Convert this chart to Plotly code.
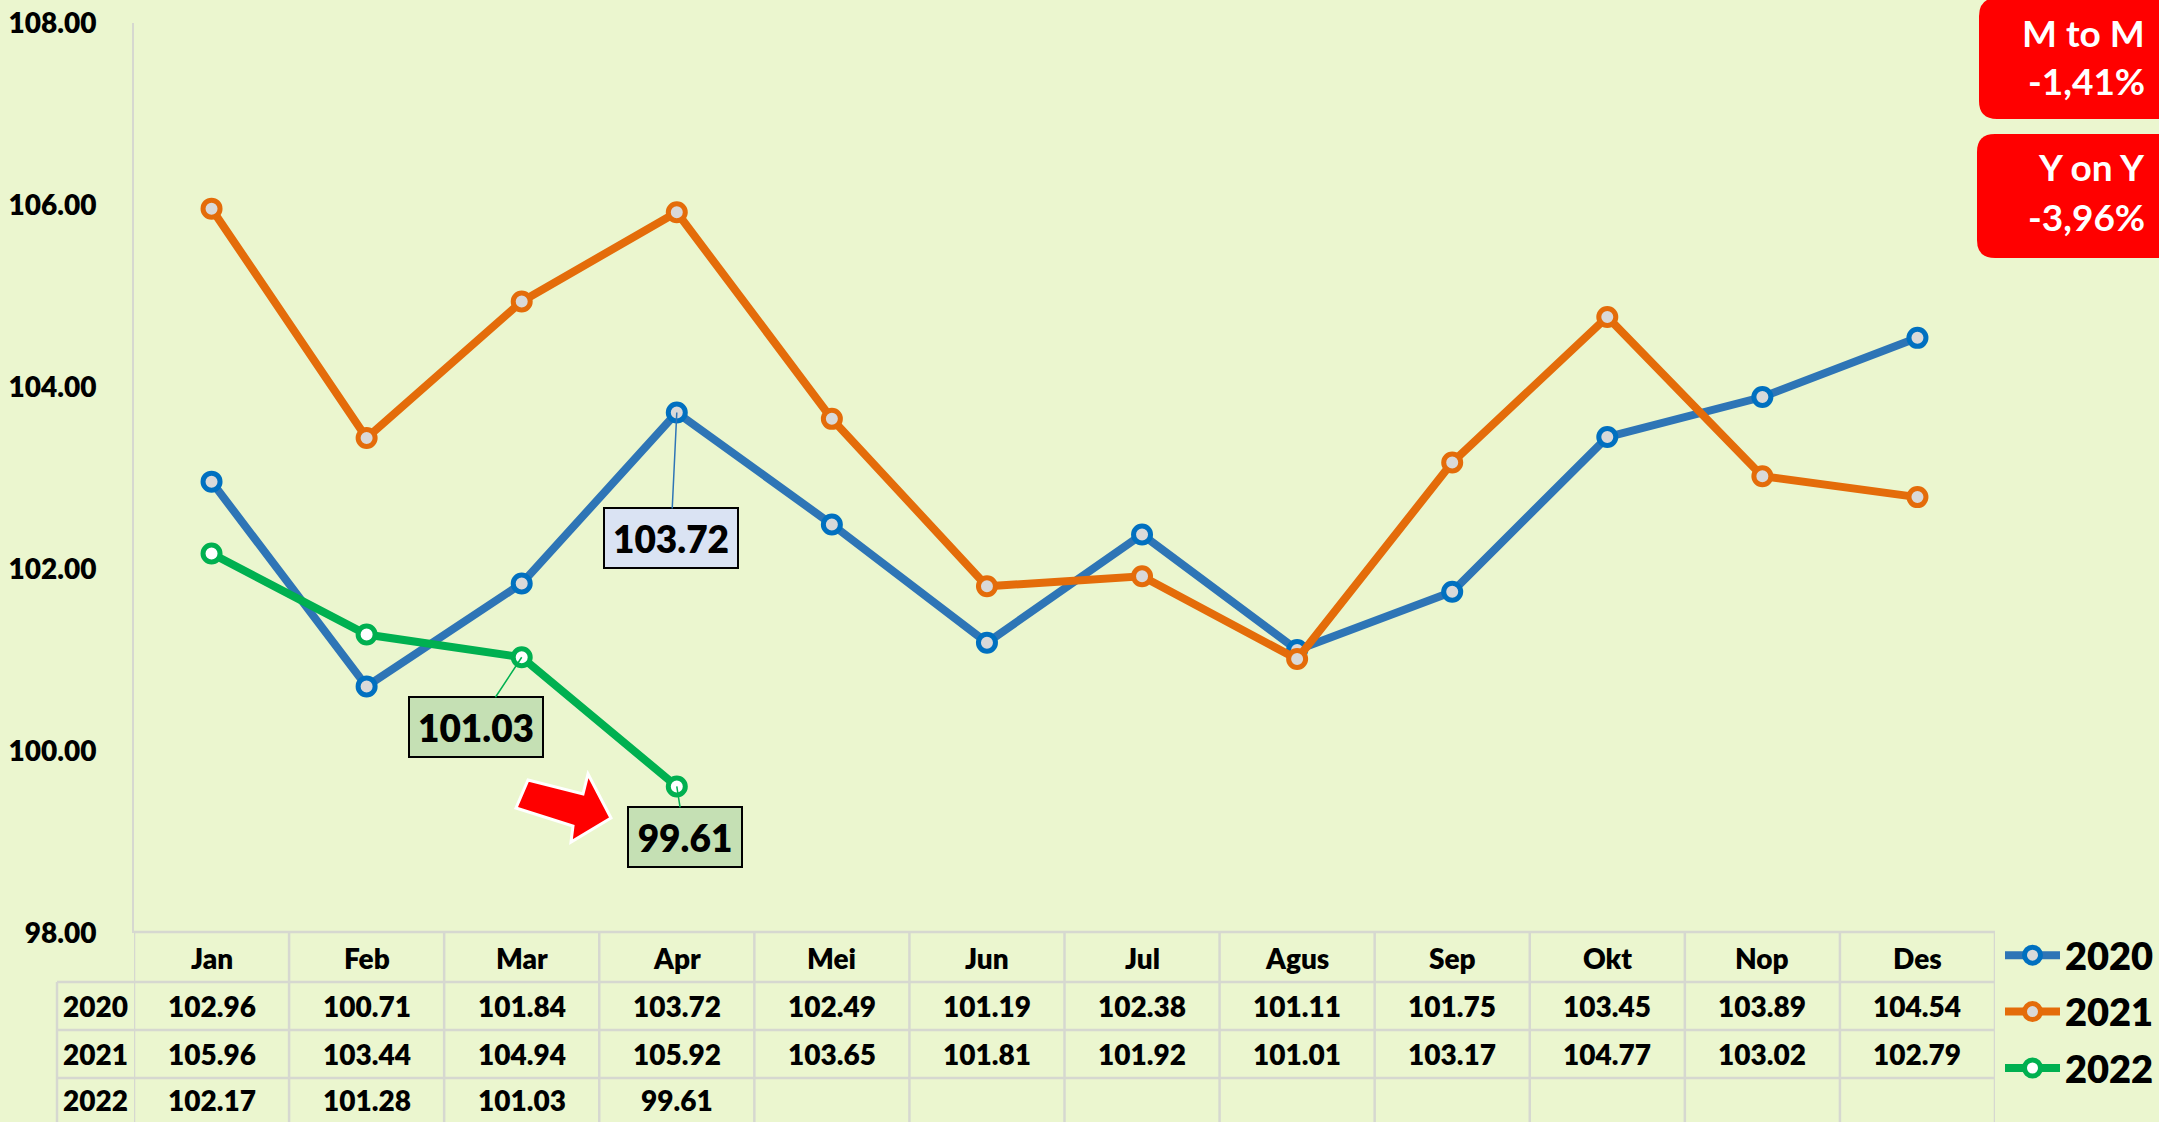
import plotly.graph_objects as go

# ---------------- data ----------------
months = ["Jan", "Feb", "Mar", "Apr", "Mei", "Jun", "Jul", "Agus", "Sep", "Okt", "Nop", "Des"]
years = ["2020", "2021", "2022"]
v2020 = [102.96, 100.71, 101.84, 103.72, 102.49, 101.19, 102.38, 101.11, 101.75, 103.45, 103.89, 104.54]
v2021 = [105.96, 103.44, 104.94, 105.92, 103.65, 101.81, 101.92, 101.01, 103.17, 104.77, 103.02, 102.79]
v2022 = [102.17, 101.28, 101.03, 99.61]
ytick_vals = [98, 100, 102, 104, 106, 108]
mtm_text = ["M to M", "-1,41%"]
yoy_text = ["Y on Y", "-3,96%"]

# ---------------- geometry helpers ----------------
W, H = 2159, 1122
def px(x):
    return x / W
def py(y):
    return 1 - y / H

BG = "#EBF6CF"
FONT = "Lato"
GRID = "#D6D8D0"
HEAVY = 800

fig = go.Figure()

series = [
    ("2020", v2020, "#2E75B6", "#0070C0", "#D9D9D9"),
    ("2021", v2021, "#E46C0A", "#E46C0A", "#D9D9D9"),
    ("2022", v2022, "#00B050", "#00B050", "#FFFFFF"),
]
for name, vals, lc, mc, fill in series:
    fig.add_trace(go.Scatter(
        x=months[:len(vals)], y=vals, mode="lines+markers", name=name, legendgroup=name,
        line=dict(color=lc, width=8),
        marker=dict(size=17, color=fill, line=dict(color=mc, width=5)),
        cliponaxis=False,
    ))

shapes = []
annotations = []

# ---------------- data table below plot ----------------
top_hdr, hdr_bot, r1, r2, r3 = 932, 982, 1030, 1078, 1126
label_left, label_right = 57, 134
n = len(months)
shapes.append(dict(type="line", xref="x", yref="paper", x0=-0.5, x1=n - 0.5,
                   y0=py(top_hdr), y1=py(top_hdr), line=dict(color=GRID, width=2.5)))
for yy in [hdr_bot, r1, r2, r3]:
    shapes.append(dict(type="line", xref="paper", yref="paper", x0=px(label_left), x1=px(1995),
                       y0=py(yy), y1=py(yy), line=dict(color=GRID, width=2.5)))
for i in range(n + 1):
    shapes.append(dict(type="line", xref="x", yref="paper", x0=i - 0.5, x1=i - 0.5,
                       y0=py(top_hdr), y1=py(1130), line=dict(color=GRID, width=2.5)))
shapes.append(dict(type="line", xref="paper", yref="paper", x0=px(label_left), x1=px(label_left),
                   y0=py(hdr_bot), y1=py(1130), line=dict(color=GRID, width=2.5)))

tfont = dict(family=FONT, size=28, color="black", weight=HEAVY)
for m in months:
    annotations.append(dict(x=m, xref="x", y=py((top_hdr + hdr_bot) / 2 + 1), yref="paper",
                            text=m, showarrow=False, font=tfont, xanchor="center", yanchor="middle"))
row_centers = [(hdr_bot + r1) / 2, (r1 + r2) / 2, (r2 + r3) / 2 - 2]
for yr, vals, yc in zip(years, [v2020, v2021, v2022], row_centers):
    annotations.append(dict(x=px((label_left + label_right) / 2), xref="paper", y=py(yc), yref="paper",
                            text=yr, showarrow=False, font=tfont, xanchor="center", yanchor="middle"))
    for m, v in zip(months, vals):
        annotations.append(dict(x=m, xref="x", y=py(yc), yref="paper", text=f"{v:.2f}",
                                showarrow=False, font=tfont, xanchor="center", yanchor="middle"))

# ---------------- callout labels ----------------
lfont = dict(family=FONT, size=37, color="black", weight=HEAVY)
annotations.append(dict(x="Apr", y=v2020[3], xref="x", yref="y", text=f"{v2020[3]:.2f}",
                        showarrow=True, arrowhead=0, arrowwidth=1.5, arrowcolor="#2E75B6",
                        ax=-6, ay=126, font=lfont, bgcolor="#DAE3F3", bordercolor="black",
                        borderwidth=2, borderpad=6, width=120, height=46))
annotations.append(dict(x="Mar", y=v2022[2], xref="x", yref="y", text=f"{v2022[2]:.2f}",
                        showarrow=True, arrowhead=0, arrowwidth=1.5, arrowcolor="#00B050",
                        ax=-46, ay=70, font=lfont, bgcolor="#C5E0B4", bordercolor="black",
                        borderwidth=2, borderpad=6, width=120, height=46))
annotations.append(dict(x="Apr", y=v2022[3], xref="x", yref="y", text=f"{v2022[3]:.2f}",
                        showarrow=True, arrowhead=0, arrowwidth=1.5, arrowcolor="#00B050",
                        ax=8, ay=51, font=lfont, bgcolor="#C5E0B4", bordercolor="black",
                        borderwidth=2, borderpad=6, width=100, height=46))

# ---------------- red block arrow ----------------
arrow_pts = [(528, 780), (583, 794), (588, 774), (611, 818), (571, 842), (573, 826), (516, 808)]
path = "M " + " L ".join(f"{px(x):.5f},{py(y):.5f}" for x, y in arrow_pts) + " Z"
shapes.append(dict(type="path", xref="paper", yref="paper", path=path,
                   fillcolor="#FF0000", line=dict(color="white", width=3)))

# ---------------- red rounded boxes ----------------
def rounded(x0, y0, x1, y1, r):
    pts = []
    pts.append(f"M {px(x0 + r):.5f},{py(y0):.5f}")
    pts.append(f"L {px(x1 - r):.5f},{py(y0):.5f}")
    pts.append(f"Q {px(x1):.5f},{py(y0):.5f} {px(x1):.5f},{py(y0 + r):.5f}")
    pts.append(f"L {px(x1):.5f},{py(y1 - r):.5f}")
    pts.append(f"Q {px(x1):.5f},{py(y1):.5f} {px(x1 - r):.5f},{py(y1):.5f}")
    pts.append(f"L {px(x0 + r):.5f},{py(y1):.5f}")
    pts.append(f"Q {px(x0):.5f},{py(y1):.5f} {px(x0):.5f},{py(y1 - r):.5f}")
    pts.append(f"L {px(x0):.5f},{py(y0 + r):.5f}")
    pts.append(f"Q {px(x0):.5f},{py(y0):.5f} {px(x0 + r):.5f},{py(y0):.5f}")
    return " ".join(pts) + " Z"

shapes.append(dict(type="path", xref="paper", yref="paper", path=rounded(1979, -2, 2185, 119, 18),
                   fillcolor="#FF0000", line=dict(width=0)))
shapes.append(dict(type="path", xref="paper", yref="paper", path=rounded(1977, 134, 2185, 258, 18),
                   fillcolor="#FF0000", line=dict(width=0)))
bfont = dict(family=FONT, size=37, color="white", weight="bold")
for txt, yc in zip(mtm_text + yoy_text, [32, 81, 167, 217]):
    annotations.append(dict(x=px(2147), y=py(yc), xref="paper", yref="paper", text=txt,
                            showarrow=False, xanchor="right", yanchor="middle", font=bfont))

fig.update_layout(
    width=W, height=H,
    margin=dict(l=0, r=0, t=0, b=0, pad=0, autoexpand=False),
    paper_bgcolor=BG, plot_bgcolor=BG,
    font=dict(family=FONT),
    shapes=shapes, annotations=annotations,
    showlegend=True,
    legend=dict(x=px(2000), y=py(924), xanchor="left", yanchor="top",
                font=dict(family=FONT, size=38, color="black", weight=HEAVY),
                bgcolor="rgba(0,0,0,0)", traceorder="grouped", tracegroupgap=4,
                itemwidth=55),
    xaxis=dict(domain=[px(134), px(1995)], type="category", categoryarray=months,
               range=[-0.5, n - 0.5], showticklabels=False, showgrid=False,
               zeroline=False, showline=False, fixedrange=True, automargin=False),
    yaxis=dict(domain=[py(933), py(23)], range=[98, 108], tickvals=ytick_vals,
               tickformat=".2f", showgrid=False, zeroline=False, showline=True,
               linecolor=GRID, linewidth=2, ticks="", ticklabelstandoff=30, automargin=False,
               tickfont=dict(family=FONT, size=28, color="black", weight=HEAVY)),
)

fig.write_html("out.html", config={"displayModeBar": False},
               post_script="document.body.style.margin='0';document.body.style.overflow='hidden';")
